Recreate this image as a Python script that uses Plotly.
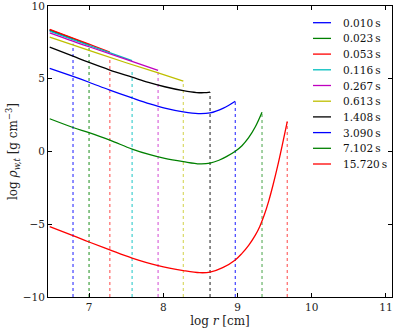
import plotly.graph_objects as go

# ---- data ----
times = ["0.010", "0.023", "0.053", "0.116", "0.267", "0.613", "1.408", "3.090", "7.102", "15.720"]
colors = ["#0000ff", "#008000", "#ff0000", "#00bfbf", "#bf00bf", "#bfbf00", "#000000",
          "#0000ff", "#008000", "#ff0000"]
dot_colors = ["rgba(0,0,255,0.75)", "rgba(0,128,0,0.75)", "rgba(255,0,0,0.6)", "rgba(0,191,191,0.75)",
              "rgba(191,0,191,0.6)", "rgba(191,191,0,0.6)", "rgba(0,0,0,0.75)",
              "rgba(0,0,255,0.75)", "rgba(0,128,0,0.6)", "rgba(255,0,0,0.6)"]

r_t0 = [6.47, 6.62, 6.784]
rho_t0 = [8.33, 8.04, 7.72]
r_t1 = [6.47, 6.75, 7.0]
rho_t1 = [8.36, 7.82, 7.33]
r_t2 = [6.47, 6.8, 7.05, 7.28]
rho_t2 = [8.40, 7.76, 7.28, 6.83]
r_t3 = [6.47, 6.8, 7.2, 7.58]
rho_t3 = [8.28, 7.66, 6.93, 6.24]
r_t4 = [6.47, 7.0, 7.5, 7.93]
rho_t4 = [8.16, 7.20, 6.33, 5.57]
r_t5 = [6.47, 7.0, 7.5, 7.9, 8.27]
rho_t5 = [7.86, 6.95, 6.10, 5.45, 4.84]
r_t6 = [6.47, 6.784, 7.0, 7.28, 7.58, 7.8, 8.02, 8.27, 8.45, 8.55, 8.63]
rho_t6 = [7.17, 6.55, 6.12, 5.60, 5.11, 4.75, 4.45, 4.18, 4.05, 4.04, 4.08]
r_t7 = [6.47, 6.784, 7.0, 7.28, 7.58, 7.82, 8.02, 8.27, 8.47, 8.63, 8.81, 8.97]
rho_t7 = [5.72, 5.16, 4.76, 4.22, 3.68, 3.27, 2.98, 2.72, 2.60, 2.65, 2.98, 3.45]
r_t8 = [6.47, 6.784, 7.0, 7.28, 7.58, 7.82, 8.02, 8.27, 8.49, 8.63, 8.75, 8.85, 8.97, 9.06,
        9.15, 9.24, 9.33]
rho_t8 = [2.25, 1.65, 1.29, 0.78, 0.17, -0.22, -0.48, -0.70, -0.85, -0.80, -0.60, -0.35, 0.02, 0.40,
          0.95, 1.70, 2.70]
r_t9 = [6.47, 6.784, 7.0, 7.28, 7.58, 7.93, 8.27, 8.49, 8.63, 8.8, 8.97, 9.06, 9.15, 9.24, 9.30,
        9.36, 9.42, 9.48, 9.54, 9.60, 9.67]
rho_t9 = [-5.16, -5.78, -6.22, -6.76, -7.32, -7.84, -8.18, -8.33, -8.29, -7.98, -7.45, -7.0, -6.45,
          -5.75, -5.15, -4.37, -3.41, -2.27, -1.01, 0.37, 2.06]

shock_r = [6.784, 7.0, 7.28, 7.58, 7.93, 8.27, 8.63, 8.97, 9.33, 9.67]
shock_top = [7.40, 7.15, 6.45, 5.62, 5.57, 4.84, 4.08, 3.45, 2.70, 2.06]

x_ticks = [7, 8, 9, 10, 11]
y_ticks = [-10, -5, 0, 5, 10]

radii = [r_t0, r_t1, r_t2, r_t3, r_t4, r_t5, r_t6, r_t7, r_t8, r_t9]
dens = [rho_t0, rho_t1, rho_t2, rho_t3, rho_t4, rho_t5, rho_t6, rho_t7, rho_t8, rho_t9]

FONT = "DejaVu Serif, Liberation Serif, serif"
fig = go.Figure()

for i in range(len(times)):
    fig.add_trace(go.Scatter(x=[shock_r[i], shock_r[i]], y=[-10, shock_top[i]], mode="lines",
                             line=dict(color=dot_colors[i], width=1.2, dash="dot"),
                             showlegend=False, hoverinfo="skip"))

for i in range(len(times)):
    fig.add_trace(go.Scatter(x=radii[i], y=dens[i], mode="lines", name=times[i] + "\u2009s",
                             line=dict(color=colors[i], width=1.3, shape="spline", smoothing=1.0),
                             showlegend=False, hoverinfo="skip"))

W, H = 399, 332
L, R, T, B = 48, 7, 6, 35
pw, ph = W - L - R, H - T - B

def px_to_paper(px, py):
    return (px - L) / pw, (H - B - py) / ph

for i, t in enumerate(times):
    py = 22.7 + i * 15.7
    x0, y0 = px_to_paper(313, py)
    x1, _ = px_to_paper(331, py)
    xt, _ = px_to_paper(341, py)
    fig.add_shape(type="line", xref="paper", yref="paper", x0=x0, x1=x1, y0=y0, y1=y0,
                  line=dict(color=colors[i], width=1.3))
    fig.add_annotation(xref="paper", yref="paper", x=xt, y=y0, text=t + "\u2009s", showarrow=False,
                       xanchor="left", yanchor="middle", font=dict(family=FONT, size=10.5, color="#111"))

axis_common = dict(showline=True, linecolor="black", linewidth=1, mirror="ticks", ticks="inside",
                   ticklen=4, tickcolor="black", showgrid=False, zeroline=False, automargin=False,
                   ticklabeloverflow="allow",
                   tickfont=dict(family=FONT, size=10.5, color="#222"))

fig.update_layout(
    width=W, height=H,
    margin=dict(l=L, r=R, t=T, b=B),
    plot_bgcolor="white", paper_bgcolor="white",
    hovermode=False,
    xaxis=dict(range=[6.447, 11.081], tickvals=x_ticks, ticktext=[str(v) for v in x_ticks],
               title=dict(text="log <i>r</i> [cm]", font=dict(family=FONT, size=12, color="#222"), standoff=5),
               **axis_common),
    yaxis=dict(range=[-10, 10], tickvals=y_ticks,
               title=dict(text="log <i>ρ<sub>w,t</sub></i> [g cm<sup>−3</sup>]",
                          font=dict(family=FONT, size=12, color="#222"), standoff=2),
               **axis_common),
)

# remove the default 8px page margin so the figure sits at the window's top-left corner
fig.write_html("out.html", config={"displayModeBar": False},
               post_script="document.body.style.margin='0px';")
